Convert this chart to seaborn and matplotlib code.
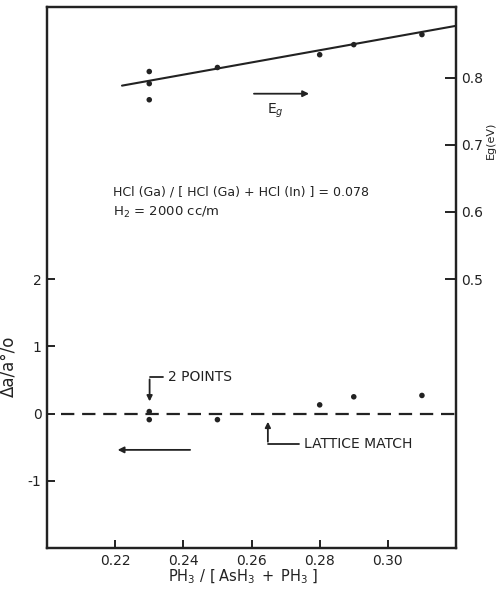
"""Lattice mismatch and band gap vs PH3 fraction (scanned figure recreation)."""

import matplotlib
matplotlib.use("Agg")
import matplotlib.pyplot as plt
import pandas as pd
import seaborn as sns

# Band gap points (right axis, eV)
eg_x = [0.23, 0.23, 0.23, 0.25, 0.28, 0.29, 0.31]
eg_val = [0.809, 0.791, 0.767, 0.815, 0.834, 0.849, 0.864]

# Fitted band gap line endpoints
fit_x = [0.222, 0.32]
fit_eg = [0.788, 0.877]

# Lattice mismatch points (left axis, %)
da_x = [0.23, 0.23, 0.25, 0.28, 0.29, 0.31]
da_val = [0.03, -0.09, -0.09, 0.13, 0.25, 0.27]

x_ticks = [0.22, 0.24, 0.26, 0.28, 0.30]
x_labels = ["0.22", "0.24", "0.26", "0.28", "0.30"]
left_ticks = [2, 1, 0, -1]
left_labels = ["2", "1", "0", "-1"]
right_ticks = [0.5, 0.6, 0.7, 0.8]
right_labels = ["0.5", "0.6", "0.7", "0.8"]

INK = "#222222"

sns.set_style("ticks")
plt.rcParams["font.family"] = ["DejaVu Sans"]

eg_df = pd.DataFrame({"x": eg_x, "eg": eg_val})
fit_df = pd.DataFrame({"x": fit_x, "eg": fit_eg})
da_df = pd.DataFrame({"x": da_x, "da": da_val})

fig = plt.figure(figsize=(4.98, 5.89), dpi=100)
ax = fig.add_axes([0.0944, 0.0696, 0.8213, 0.9185])
ax2 = ax.twinx()

# lattice mismatch data
sns.scatterplot(data=da_df, x="x", y="da", ax=ax, color=INK, s=16,
                edgecolor="none", zorder=3)
ax.axhline(0, xmin=0.035, color=INK, lw=1.6, dashes=(6, 3.5))

# band gap data
sns.lineplot(data=fit_df, x="x", y="eg", ax=ax2, color=INK, lw=1.5)
sns.scatterplot(data=eg_df, x="x", y="eg", ax=ax2, color=INK, s=16,
                edgecolor="none", zorder=3)

ax.set_xlim(0.20, 0.32)
ax.set_ylim(-2, 6.05)
ax2.set_ylim(0.1, 0.905)

ax.set_xticks(x_ticks, x_labels)
ax.set_yticks(left_ticks, left_labels)
ax2.set_yticks(right_ticks, right_labels)

for a in (ax, ax2):
    for s in a.spines.values():
        s.set_visible(True)
        s.set_linewidth(1.6)
        s.set_color(INK)
    a.tick_params(direction="in", length=6, width=1.4, colors=INK,
                  labelsize=10, pad=4)
ax2.tick_params(axis="y", length=8)

ax.set_xlabel(r"PH$_3$ / $\left[\;\mathrm{AsH_3\;+\;PH_3}\;\right]$",
              fontsize=10.5, color=INK)
ax.xaxis.set_label_coords(0.48, -0.036)
ax.set_ylabel("Δa/a°/o", fontsize=12, color=INK)
ax.yaxis.set_label_coords(-0.072, 0.335)
ax2.set_ylabel("Eg(eV)", fontsize=8, color=INK, rotation=90)
ax2.yaxis.set_label_coords(1.072, 0.754)

# conditions text
ax.text(0.2193, 3.30, "HCl (Ga) / [ HCl (Ga) + HCl (In) ] = 0.078",
        fontsize=9, color=INK, va="center")
ax.text(0.2193, 2.99, r"H$_2$ = 2000 cc/m", fontsize=9.5, color=INK,
        va="center")

# Eg arrow
ax.annotate("", xy=(0.2777, 4.76), xytext=(0.2599, 4.76),
            arrowprops=dict(arrowstyle="-|>", color=INK, lw=1.3,
                            mutation_scale=9))
ax.text(0.267, 4.50, r"E$_g$", fontsize=10, color=INK, ha="center",
        va="center")

# lattice arrow (points left)
ax.annotate("", xy=(0.2199, -0.54), xytext=(0.2428, -0.54),
            arrowprops=dict(arrowstyle="-|>", color=INK, lw=1.3,
                            mutation_scale=9))

# "2 POINTS" bracket
ax.plot([0.2301, 0.2339], [0.54, 0.54], color=INK, lw=1.3)
ax.annotate("", xy=(0.2301, 0.14), xytext=(0.2301, 0.55),
            arrowprops=dict(arrowstyle="-|>", color=INK, lw=1.3,
                            mutation_scale=8))
ax.text(0.2355, 0.54, "2 POINTS", fontsize=10, color=INK, va="center")

# "LATTICE MATCH" bracket
ax.plot([0.2648, 0.2739], [-0.45, -0.45], color=INK, lw=1.3)
ax.annotate("", xy=(0.2648, -0.08), xytext=(0.2648, -0.46),
            arrowprops=dict(arrowstyle="-|>", color=INK, lw=1.3,
                            mutation_scale=8))
ax.text(0.2755, -0.45, "LATTICE MATCH", fontsize=10, color=INK, va="center")

plt.savefig("out.png", dpi=100)
plt.close()
